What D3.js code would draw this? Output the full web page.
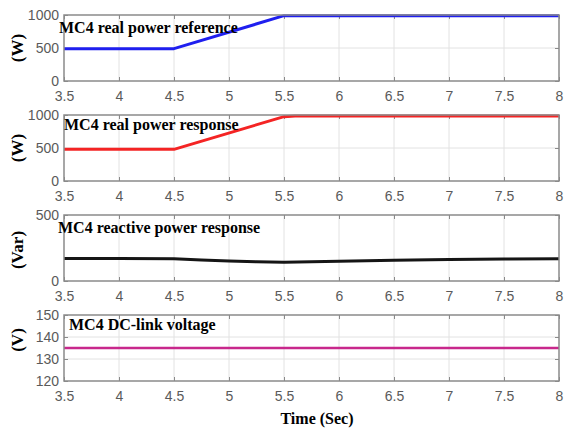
<!DOCTYPE html>
<html>
<head>
<meta charset="utf-8">
<script src="https://cdn.jsdelivr.net/npm/d3@7"></script>
<style>
  html, body { margin: 0; padding: 0; background: #fff; }
  svg { display: block; }
</style>
</head>
<body>
<svg id="chart" width="564" height="428"></svg>
<script>
// Time ticks shared by all four panels
const timeTicks = [3.5, 4, 4.5, 5, 5.5, 6, 6.5, 7, 7.5, 8];

// MC4 real power reference (W)
const refTime  = [3.5, 4.5, 5.5, 8];
const refPower = [490, 490, 990, 990];

// MC4 real power response (W)
const respTime  = [3.5, 4.5, 5.5, 5.6, 8];
const respPower = [480, 480, 975, 985, 985];

// MC4 reactive power response (Var)
const qTime  = [3.5, 4, 4.5, 4.75, 5, 5.25, 5.5, 5.75, 6, 6.5, 7, 7.5, 8];
const qPower = [170, 170, 168, 160, 152, 146, 142, 145, 150, 157, 162, 166, 169];

// MC4 DC-link voltage (V)
const vTime = [3.5, 8];
const vDc   = [135, 135];

const panels = [
  { title: "MC4 real power reference", unit: "(W)", t: refTime, v: refPower,
    domain: [0, 1000], yTicks: [0, 500, 1000], color: "#1f1fef", width: 3,
    top: 15, titleX: 59, titleY: 33, unitY: 48 },
  { title: "MC4 real power response", unit: "(W)", t: respTime, v: respPower,
    domain: [0, 1000], yTicks: [0, 500, 1000], color: "#f42424", width: 3,
    top: 115, titleX: 64, titleY: 130, unitY: 148 },
  { title: "MC4 reactive power response", unit: "(Var)", t: qTime, v: qPower,
    domain: [0, 500], yTicks: [0, 500], color: "#151515", width: 3,
    top: 215, titleX: 58, titleY: 233, unitY: 250 },
  { title: "MC4 DC-link voltage", unit: "(V)", t: vTime, v: vDc,
    domain: [120, 150], yTicks: [120, 130, 140, 150], color: "#c8288c", width: 2.5,
    top: 315, titleX: 69, titleY: 330, unitY: 340 }
];

const svg = d3.select("#chart");
const left = 64, right = 559, plotH = 66;
const x = d3.scaleLinear().domain([3.5, 8]).range([left, right]);

const tickColor = "#5a5a5a";
const frameColor = "#8a8a8a";
const gridColor = "#e2e2e2";
const serif = "Liberation Serif, Times New Roman, serif";
const sans = "Liberation Sans, Arial, sans-serif";

panels.forEach(p => {
  const y = d3.scaleLinear().domain(p.domain).range([p.top + plotH, p.top]);
  const g = svg.append("g");

  // grid
  g.append("g").selectAll("line").data(timeTicks.slice(1, -1)).join("line")
    .attr("x1", d => x(d)).attr("x2", d => x(d))
    .attr("y1", p.top).attr("y2", p.top + plotH)
    .attr("stroke", gridColor).attr("stroke-width", 1);
  g.append("g").selectAll("line").data(p.yTicks.slice(1, -1)).join("line")
    .attr("x1", left).attr("x2", right)
    .attr("y1", d => y(d)).attr("y2", d => y(d))
    .attr("stroke", gridColor).attr("stroke-width", 1);

  // bottom axis with labels, ticks pointing inward
  const xAxis = g.append("g").attr("transform", `translate(0,${p.top + plotH})`)
    .call(d3.axisBottom(x).tickValues(timeTicks).tickSize(-4).tickPadding(10)
      .tickFormat(d3.format("~g")));
  xAxis.select(".domain").remove();
  xAxis.selectAll("line").attr("stroke", frameColor);
  xAxis.selectAll("text").attr("fill", tickColor)
    .style("font-family", sans).style("font-size", "14px");

  // top axis ticks (no labels)
  const xTop = g.append("g").attr("transform", `translate(0,${p.top})`)
    .call(d3.axisTop(x).tickValues(timeTicks).tickSize(-4).tickFormat(""));
  xTop.select(".domain").remove();
  xTop.selectAll("line").attr("stroke", frameColor);

  // left axis
  const yAxis = g.append("g").attr("transform", `translate(${left},0)`)
    .call(d3.axisLeft(y).tickValues(p.yTicks).tickSize(-4).tickPadding(5)
      .tickFormat(d3.format("d")));
  yAxis.select(".domain").remove();
  yAxis.selectAll("line").attr("stroke", frameColor);
  yAxis.selectAll("text").attr("fill", tickColor)
    .style("font-family", sans).style("font-size", "14px");

  // right axis ticks
  const yRight = g.append("g").attr("transform", `translate(${right},0)`)
    .call(d3.axisRight(y).tickValues(p.yTicks).tickSize(-4).tickFormat(""));
  yRight.select(".domain").remove();
  yRight.selectAll("line").attr("stroke", frameColor);

  // data line
  const pts = p.t.map((t, i) => [t, p.v[i]]);
  g.append("path").datum(pts)
    .attr("fill", "none").attr("stroke", p.color).attr("stroke-width", p.width)
    .attr("stroke-linejoin", "round")
    .attr("d", d3.line().x(d => x(d[0])).y(d => y(d[1])));

  // frame
  g.append("rect").attr("x", left).attr("y", p.top)
    .attr("width", right - left).attr("height", plotH)
    .attr("fill", "none").attr("stroke", frameColor).attr("stroke-width", 1.5);

  // panel title
  g.append("text").attr("x", p.titleX).attr("y", p.titleY)
    .text(p.title)
    .style("font-family", serif)
    .style("font-weight", "bold").style("font-size", "16px").attr("fill", "#000");

  // unit label
  g.append("text")
    .attr("transform", `translate(23,${p.unitY}) rotate(-90)`)
    .attr("text-anchor", "middle")
    .text(p.unit)
    .style("font-family", serif)
    .style("font-weight", "bold").style("font-size", "17px").attr("fill", "#000");
});

svg.append("text").attr("x", 317).attr("y", 424).attr("text-anchor", "middle")
  .text("Time (Sec)")
  .style("font-family", serif)
  .style("font-weight", "bold").style("font-size", "16px").attr("fill", "#000");
</script>
</body>
</html>
